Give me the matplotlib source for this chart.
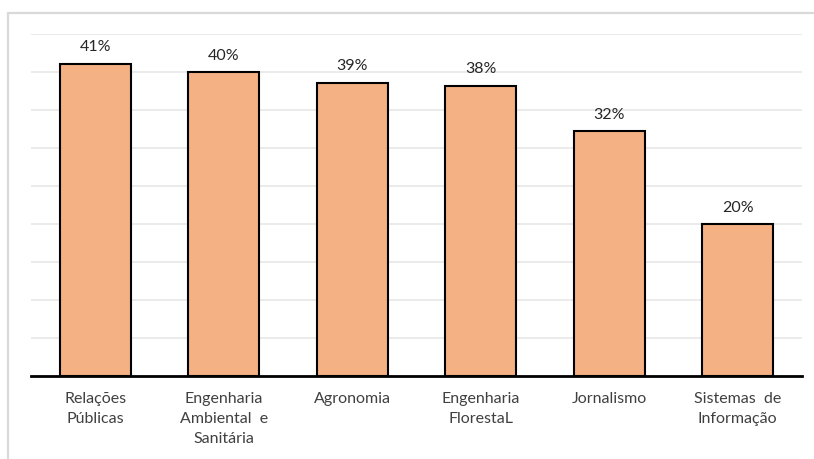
import matplotlib
matplotlib.use("Agg")
import matplotlib.pyplot as plt
from matplotlib.patches import Rectangle

categories = ["Relações\nPúblicas", "Engenharia\nAmbiental  e\nSanitária", "Agronomia",
              "Engenharia\nFlorestaL", "Jornalismo", "Sistemas  de\nInformação"]
values = [41.1, 40.0, 38.6, 38.2, 32.2, 20.0]
value_labels = ["41%", "40%", "39%", "38%", "32%", "20%"]

plt.rcParams['font.family'] = ['Lato', 'DejaVu Sans']

fig = plt.figure(figsize=(8.14, 4.6), dpi=100)
fig.patches.append(Rectangle((8/814, -0.1), 1.2, (446/460) + 0.1, transform=fig.transFigure,
                             fill=False, edgecolor='#D9D9D9', linewidth=1.6))
ax = fig.add_axes([31/814, 83/460, 771/814, 342/460])

x = list(range(len(categories)))
ax.bar(x, values, width=0.55, color='#F4B183', edgecolor='black', linewidth=1.5, zorder=3)
for xi, v, lab in zip(x, values, value_labels):
    ax.annotate(lab, (xi, v), xytext=(0, 7.5), textcoords='offset points',
                ha='center', va='bottom', fontsize=11.5, color='#262626')

ax.set_ylim(0, 45)
ax.set_xlim(-0.5, len(categories) - 0.5)
ax.set_yticks(range(0, 46, 5))
ax.yaxis.grid(True, color='#E8E8E8', linewidth=1.2, zorder=0)
ax.tick_params(axis='y', left=False, labelleft=False)
ax.set_xticks(x)
ax.set_xticklabels(categories, fontsize=11.5, color='#404040', linespacing=1.55, va='top')
ax.tick_params(axis='x', length=0, pad=11)
for s in ['top', 'right', 'left']:
    ax.spines[s].set_visible(False)
ax.spines['bottom'].set_linewidth(2)
ax.spines['bottom'].set_color('black')
ax.spines['bottom'].set_zorder(4)

fig.savefig("out.png", dpi=100)
